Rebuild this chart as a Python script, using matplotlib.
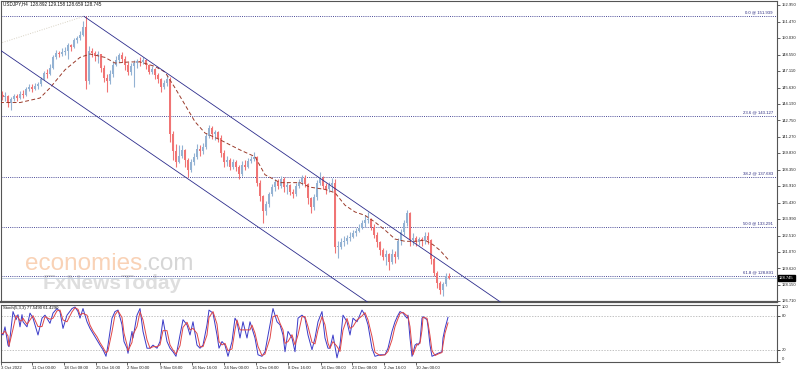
import matplotlib
matplotlib.use("Agg")
import matplotlib.pyplot as plt
import numpy as np
import pandas as pd
from matplotlib.transforms import blended_transform_factory

plt.rcParams['font.family'] = ['Liberation Sans', 'DejaVu Sans']

# ---------------- data ----------------
symbol_title = "USDJPY,H4  128.892 129.158 128.659 128.745"
stoch_title = "Stoch(5,3,3) 77.5490 61.4290"
first_open = 145.0
bar_step = 3  # each drawn candle covers 3 H4 periods

closes = [144.8, 144.9, 144.3, 144.6, 144.9, 144.7, 145.1, 145.0, 145.5, 145.7,
          145.5, 145.8, 145.9, 146.4, 146.9, 146.8, 147.4, 148.3, 148.7, 148.6,
          148.8, 148.9, 149.4, 149.2, 149.8, 150.0, 150.3, 151.0, 146.2, 148.9,
          148.7, 148.4, 148.6, 147.4, 146.5, 146.2, 146.8, 147.6, 148.1, 148.5,
          148.2, 147.6, 147.0, 147.5, 147.8, 148.0, 147.9, 148.1, 147.6, 147.0,
          147.3, 146.7, 146.4, 145.7, 146.0, 146.4, 141.5, 140.0, 139.0, 139.6,
          140.1, 139.2, 138.3, 139.0, 139.5, 140.2, 140.0, 140.4, 141.3, 142.0,
          141.5, 141.7, 141.2, 139.8, 139.0, 139.2, 138.6, 139.0, 138.6, 138.0,
          138.8, 138.6, 139.1, 139.3, 139.5, 137.2, 136.0, 134.7, 135.3, 136.2,
          136.8, 137.3, 136.9, 137.5, 136.8, 137.0, 136.4, 136.2, 136.9, 137.3,
          137.6, 137.1, 135.8, 135.0, 135.9, 137.2, 137.6, 136.9, 136.6, 137.0,
          137.2, 131.5, 131.5, 131.9, 132.0, 132.3, 132.4, 132.7, 132.9, 133.2,
          133.6, 133.9, 134.0, 133.3, 132.6, 131.9, 131.2, 130.6, 130.9, 130.2,
          130.9, 130.6, 132.0, 132.8, 133.6, 134.5, 132.1, 132.3, 131.9, 132.2,
          132.0, 132.5, 132.1, 130.4, 129.2, 128.3, 127.7, 128.2, 128.892, 128.745]

highs = [145.3, 145.2, 145.0, 144.8, 145.1, 145.1, 145.3, 145.4, 145.7, 145.9,
         145.9, 146.0, 146.1, 146.6, 147.1, 147.3, 147.7, 148.5, 149.0, 148.9,
         149.1, 149.2, 149.6, 149.5, 150.0, 150.2, 150.6, 151.5, 151.94, 149.3,
         149.1, 148.9, 148.9, 148.6, 147.6, 146.8, 147.2, 147.9, 148.4, 148.7,
         148.8, 148.4, 147.9, 147.8, 148.1, 148.2, 148.3, 148.35, 148.2, 147.7,
         147.5, 147.4, 146.9, 146.5, 146.3, 146.7, 146.6, 141.8, 140.6, 140.5,
         140.5, 140.2, 139.4, 139.3, 139.8, 140.6, 140.5, 140.7, 141.6, 142.3,
         142.2, 141.9, 141.8, 141.4, 140.1, 139.6, 139.4, 139.3, 139.2, 138.8,
         139.1, 139.2, 139.4, 139.6, 139.9, 139.6, 137.4, 136.1, 135.6, 136.4,
         137.1, 137.5, 137.5, 137.8, 137.7, 137.3, 137.1, 136.6, 137.2, 137.5,
         137.9, 137.9, 137.2, 135.9, 136.2, 137.4, 138.1, 137.8, 137.2, 137.3,
         137.6, 137.5, 132.0, 132.3, 132.5, 132.6, 132.8, 133.0, 133.2, 133.5,
         133.9, 134.3, 134.6, 134.1, 133.5, 132.8, 132.0, 131.4, 131.2, 131.0,
         131.3, 131.1, 132.3, 133.1, 133.9, 134.8, 134.6, 132.7, 132.5, 132.4,
         132.4, 132.8, 132.8, 132.2, 130.6, 129.4, 128.5, 128.4, 129.2, 129.158]

lows = [144.5, 144.4, 143.9, 143.6, 144.4, 144.4, 144.6, 144.7, 144.9, 145.3,
        145.2, 145.4, 145.5, 145.8, 146.3, 146.5, 146.7, 147.3, 148.2, 148.3,
        148.4, 148.5, 148.2, 148.9, 149.1, 149.6, 149.8, 150.2, 145.5, 145.9,
        148.3, 148.0, 147.8, 147.0, 146.1, 145.2, 145.9, 146.6, 147.5, 147.9,
        147.9, 147.2, 146.7, 146.7, 145.7, 147.4, 147.5, 147.7, 147.3, 146.8,
        146.8, 146.4, 146.0, 145.2, 145.5, 145.8, 140.8, 139.2, 138.6, 138.9,
        139.4, 138.6, 137.7, 138.1, 138.8, 139.3, 139.6, 139.7, 140.2, 141.2,
        141.1, 141.0, 140.8, 139.5, 138.6, 138.7, 138.3, 138.4, 138.2, 137.5,
        137.8, 138.3, 138.5, 138.9, 139.1, 136.9, 135.6, 133.6, 134.3, 135.0,
        136.0, 136.5, 136.6, 136.7, 136.4, 136.2, 136.1, 135.8, 136.0, 136.7,
        137.0, 136.8, 135.3, 134.5, 134.8, 135.7, 137.0, 136.6, 136.2, 136.4,
        136.5, 131.0, 130.5, 131.3, 131.6, 131.8, 132.0, 132.3, 132.5, 132.8,
        133.1, 133.3, 133.6, 133.0, 132.3, 131.5, 130.8, 130.3, 129.9, 129.5,
        130.0, 130.1, 130.4, 131.7, 132.6, 133.4, 131.6, 131.7, 131.6, 131.7,
        131.6, 131.8, 131.8, 130.0, 128.9, 127.9, 127.3, 127.15, 128.0, 128.659]

ma_x = [0, 20, 40, 50, 65, 80, 90, 105, 115, 130, 140, 155, 165, 175, 185, 195,
        205, 220, 240, 255, 265, 280, 300, 310, 325, 335, 345, 355, 365, 375,
        385, 395, 405, 415, 425, 433, 440, 448]
ma_values = [144.3, 144.3, 144.7, 145.6, 147.2, 148.3, 148.6, 148.3, 147.8, 147.9,
             147.9, 147.5, 147.0, 145.6, 144.1, 142.6, 141.6, 141.0, 140.1, 139.5,
             137.9, 137.2, 137.2, 136.8, 136.6, 136.3, 135.2, 134.6, 134.3, 133.7,
             133.0, 132.2, 132.0, 132.0, 132.1, 131.7, 131.2, 130.4]

fib_levels = [151.939, 143.127, 137.683, 133.291, 128.891]
fib_names = ["0.0", "23.6", "38.2", "50.0", "61.8"]
last_price = 128.745

channel_upper_x = [84, 520]
channel_upper_p = [151.94, 125.43]
channel_lower_x = [0, 400]
channel_lower_p = [148.96, 124.64]
fib_trend_x = [0, 84]
fib_trend_p = [149.55, 151.94]

price_ticks = [152.950, 151.470, 150.030, 148.550, 147.110, 145.630, 144.190,
               142.750, 141.270, 139.830, 138.350, 136.910, 135.430, 133.990,
               132.510, 131.070, 129.620, 128.150, 126.710]

stoch_x = [0, 3, 5, 8, 9, 13, 16, 18, 20, 22, 23, 27, 30, 33, 38, 42, 45, 50, 53, 57,
           60, 63, 67, 72, 75, 78, 80, 83, 87, 90, 93, 97, 100, 103, 106, 108, 112, 115,
           118, 122, 124, 127, 128, 132, 133, 137, 140, 143, 147, 150, 153, 157, 160,
           163, 167, 170, 173, 176, 180, 183, 187, 190, 193, 197, 200, 203, 207, 209,
           213, 217, 219, 222, 225, 228, 232, 235, 237, 240, 243, 247, 250, 252, 255,
           258, 262, 265, 270, 273, 277, 280, 283, 285, 288, 292, 295, 298, 302, 305,
           308, 312, 315, 318, 322, 325, 328, 330, 333, 337, 340, 343, 347, 350, 353,
           357, 362, 365, 368, 372, 375, 380, 385, 388, 392, 395, 398, 400, 403, 407,
           408, 410, 412, 413, 415, 417, 418, 420, 422, 423, 427, 428, 430, 432, 435,
           438, 442, 443, 445, 448]
stoch_k = [51, 46.5, 60.8, 28.7, 26, 87.6, 73.3, 82.2, 60.8, 82.2, 69.7, 60.8, 84.9,
           76, 46.5, 76, 81.3, 67, 84.9, 92.9, 87.6, 58.1, 81.3, 92.9, 95.6, 87.6, 76,
           92.9, 69.7, 58.1, 49.2, 37.6, 28.7, 20.7, 9.1, 28.7, 76, 87.6, 90.2, 64.4,
           35, 23.3, 14.4, 52.8, 41.2, 81.3, 92.9, 52.8, 23.3, 23.3, 28.7, 23.3, 35,
           73.3, 35, 23.3, 17.1, 9.1, 46.5, 73.3, 64.4, 46.5, 69.7, 28.7, 23.3, 28.7,
           64.4, 90.2, 84.9, 46.5, 23.3, 35, 28.7, 9.1, 35, 76, 69.7, 41.2, 69.7, 41.2,
           69.7, 58.1, 41.2, 11.8, 9.1, 17.1, 64.4, 92.9, 69.7, 64.4, 46.5, 17.1, 52.8,
           41.2, 17.1, 76, 81.3, 76, 46.5, 20.7, 41.2, 69.7, 87.6, 41.2, 23.3, 23.3,
           46.5, 6.4, 28.7, 81.3, 69.7, 46.5, 76, 69.7, 90.2, 81.3, 64.4, 23.3, 9.1,
           11.8, 11.8, 23.3, 52.8, 69.7, 81.3, 87.6, 84.9, 76, 81.3, 41.2, 9.1, 14.4,
           28.7, 31.4, 28.7, 35, 76, 78.7, 73.3, 61.7, 28.7, 9.1, 11.8, 14.4, 17.1,
           41.2, 58.1, 77.5]
stoch_levels = [80, 20]

time_tick_pos = [1, 32, 64, 96, 127, 160, 192, 224, 256, 288, 321, 352, 384, 416]
time_labels = ["3 Oct 2022", "11 Oct 00:00", "18 Oct 08:00", "25 Oct 16:00",
               "2 Nov 00:00", "9 Nov 08:00", "16 Nov 16:00", "24 Nov 00:00",
               "1 Dec 08:00", "8 Dec 16:00", "16 Dec 00:00", "23 Dec 08:00",
               "2 Jan 16:00", "10 Jan 00:00"]

# ---------------- figure ----------------
W, H = 798, 372
fig = plt.figure(figsize=(W / 100, H / 100), dpi=100)
fig.patch.set_facecolor('white')

ax = fig.add_axes([1 / W, 1 - 302 / H, 776 / W, 301 / H])
axs = fig.add_axes([1 / W, 1 - 361.5 / H, 776 / W, 57 / H])

up_col = '#93b2d3'
dn_col = '#f07474'

opens = [first_open] + closes[:-1]
xs = np.arange(len(closes)) * bar_step + 2.5
hi = np.maximum(np.array(highs), np.maximum(opens, closes))
lo = np.minimum(np.array(lows), np.minimum(opens, closes))
cols = [up_col if c >= o else dn_col for o, c in zip(opens, closes)]
ax.vlines(xs, lo, hi, colors=cols, linewidth=0.8, zorder=3)
bh = np.maximum(np.abs(np.array(closes) - np.array(opens)), 0.06)
ax.bar(xs, bh, bottom=np.minimum(opens, closes), width=2.0, color=cols,
       linewidth=0, zorder=3)

# moving average
ax.plot(ma_x, ma_values, color='#9a3a2a', linewidth=0.7,
        linestyle=(0, (4, 2.5)), zorder=4)

# fibonacci
for lvl, name in zip(fib_levels, fib_names):
    ax.axhline(lvl, color='#34348a', linewidth=0.6, linestyle=(0, (1.2, 1.4)), zorder=2)
    ax.text(773, lvl + 0.15, f"{name} @ {lvl:.3f}", fontsize=3.1, color='#2a2a80',
            ha='right', va='bottom', zorder=5)
ax.plot(fib_trend_x, fib_trend_p, color='#d8d2c4', linewidth=0.7,
        linestyle=(0, (1, 1.5)), zorder=2)

# bid line
ax.axhline(last_price, color='#b8c8dc', linewidth=0.6, zorder=2)

# channel
ax.plot(channel_upper_x, channel_upper_p, color='#2c2c8c', linewidth=0.6, zorder=4)
ax.plot(channel_lower_x, channel_lower_p, color='#2c2c8c', linewidth=0.6, zorder=4)

ax.set_xlim(1, 777)
ax.set_ylim(126.62, 153.30)
ax.set_xticks([])
ax.yaxis.tick_right()
ax.set_yticks(price_ticks)
ax.set_yticklabels([f"{v:.3f}" for v in price_ticks])
ax.tick_params(axis='y', labelsize=3.0, length=2, width=0.5, pad=1.5, colors='#222222')
for s in ax.spines.values():
    s.set_color('#555555')
    s.set_linewidth(0.8)
ax.spines['bottom'].set_linewidth(1.6)

ax.text(3, 152.85, symbol_title, fontsize=3.3, color='#111111', ha='left', va='bottom')

# current price box
tr = blended_transform_factory(ax.transAxes, ax.transData)
ax.text(1.0025, last_price, f"{last_price:.3f}", transform=tr, fontsize=3.0,
        color='white', ha='left', va='center', clip_on=False, zorder=6,
        bbox=dict(boxstyle='square,pad=0.25', facecolor='black', edgecolor='black'))

# watermark
t1 = ax.text(25, 129.45, "economies", fontsize=17.5, color='#f9d2b6',
             ha='left', va='baseline', zorder=1)
ax.annotate(".com", xy=(1, 0), xycoords=t1, fontsize=17.5, color='#d6d6d6',
            ha='left', va='bottom', zorder=1)
ax.text(43, 127.75, "FxNewsToday", fontsize=15, color='#dedede', fontweight='bold',
        ha='left', va='baseline', zorder=1)

# ---------------- stochastic ----------------
k = pd.Series(stoch_k, dtype=float)
d = k.rolling(2, min_periods=1).mean()
axs.plot(stoch_x, k, color='#3a3ac8', linewidth=0.7, zorder=3)
axs.plot(stoch_x, d, color='#e04646', linewidth=0.7, zorder=3)
for lvl in stoch_levels:
    axs.axhline(lvl, color='#aaaaaa', linewidth=0.5, linestyle=(0, (2, 2)), zorder=1)
axs.set_xlim(1, 777)
axs.set_ylim(0, 100)
axs.yaxis.tick_right()
axs.set_yticks([100, 80, 20, 0])
axs.set_yticklabels([])
axs.tick_params(axis='y', length=2, width=0.5)
trs = blended_transform_factory(axs.transAxes, axs.transData)
for v, va in [(100, 'top'), (80, 'center'), (20, 'center'), (0, 'bottom')]:
    axs.text(1.006, v, str(v), transform=trs, fontsize=3.0, ha='left', va=va,
             clip_on=False, color='#222222')
axs.set_xticks(time_tick_pos)
axs.set_xticklabels(time_labels)
axs.tick_params(axis='x', labelsize=3.1, length=2, width=0.5, pad=1.2, colors='#222222')
for lab in axs.get_xticklabels():
    lab.set_ha('left')
for s in axs.spines.values():
    s.set_color('#555555')
    s.set_linewidth(0.8)
axs.text(3, 98, stoch_title, fontsize=3.1, color='#111111', ha='left', va='top')

fig.savefig("out.png", dpi=100, facecolor='white')
